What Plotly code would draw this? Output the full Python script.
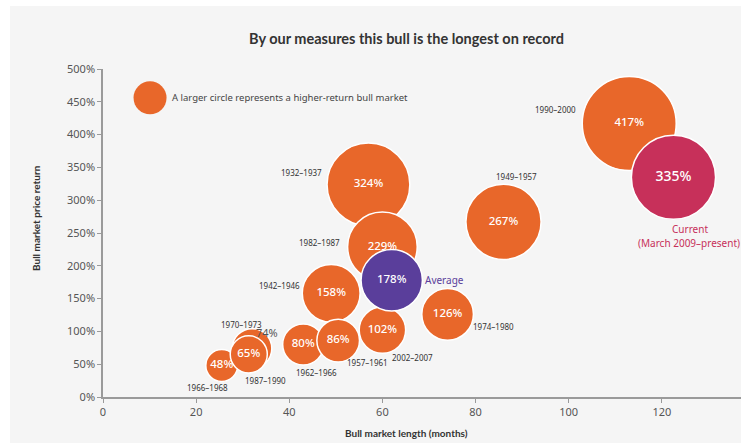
import plotly.graph_objects as go

# ---- data ----
periods = ["1932–1937", "1982–1987", "1990–2000", "1949–1957", "1942–1946",
           "1974–1980", "2002–2007", "1962–1966", "1957–1961", "1966–1968",
           "1970–1973", "1987–1990", "Average", "Current"]
months = [57, 60, 113, 86, 49, 74, 60, 43, 50.5, 25.5, 32, 31.3, 62, 122.5]
returns = [324, 229, 417, 267, 158, 126, 102, 80, 86, 48, 74, 65, 178, 335]

x_ticks = [0, 20, 40, 60, 80, 100, 120]
y_ticks = [0, 50, 100, 150, 200, 250, 300, 350, 400, 450, 500]
y_tick_labels = [f"{v}%" for v in y_ticks]

title_text = "By our measures this bull is the longest on record"
x_title = "Bull market length (months)"
y_title = "Bull market price return"
key_text = "A larger circle represents a higher-return bull market"
current_note = ["Current", "(March 2009–present)"]

# ---- styles ----
ORANGE = "#E8672A"
PURPLE = "#5A3E9B"
CRIMSON = "#C7305A"
FONT = "Noto Sans"

colors = {"Average": PURPLE, "Current": CRIMSON}
# label offsets in pixels (dx, dy with dy downward) relative to bubble centre
label_off = {
    "1932–1937": (-67, -12), "1982–1987": (-63, -4), "1990–2000": (-74, -14),
    "1949–1957": (13, -45), "1942–1946": (-52, -8), "1974–1980": (46, 12),
    "2002–2007": (30, 27), "1962–1966": (13, 28), "1957–1961": (29, 22),
    "1966–1968": (-14, 22), "1970–1973": (-11, -24), "1987–1990": (17, 26),
}
hidden_value = {"1970–1973": (15, -16)}  # value label drawn outside

texts = []
for p, r in zip(periods, returns):
    texts.append("" if p in hidden_value else f"{r}%")

fig = go.Figure()

fig.add_trace(go.Scatter(
    x=months, y=returns, mode="markers+text",
    text=texts, textposition="middle center",
    textfont=dict(family=FONT, color="white",
                  size=[14 if p == "Current" else 11.5 for p in periods],
                  weight=500),
    marker=dict(size=returns, sizemode="area", sizeref=0.0945,
                color=[colors.get(p, ORANGE) for p in periods],
                line=dict(color="white", width=1.5), opacity=1),
    cliponaxis=False, hoverinfo="skip", showlegend=False,
))

# key bubble
fig.add_trace(go.Scatter(
    x=[10.1], y=[456], mode="markers",
    marker=dict(size=33, color=ORANGE, line=dict(width=0)),
    hoverinfo="skip", showlegend=False,
))

ann = []
for p, m, r in zip(periods, months, returns):
    if p in label_off:
        dx, dy = label_off[p]
        ann.append(dict(x=m, y=r, xref="x", yref="y", text=p, showarrow=False,
                        xshift=dx, yshift=-dy,
                        font=dict(family=FONT, size=8, color="#333333")))
    if p in hidden_value:
        dx, dy = hidden_value[p]
        ann.append(dict(x=m, y=r, xref="x", yref="y", text=f"{r}%", showarrow=False,
                        xshift=dx, yshift=-dy,
                        font=dict(family=FONT, size=11, color="#555555")))
    if p == "Average":
        ann.append(dict(x=m, y=r, xref="x", yref="y", text=p, showarrow=False,
                        xanchor="left", xshift=31, yshift=0,
                        font=dict(family=FONT, size=10, color=PURPLE)))
    if p == "Current":
        ann.append(dict(x=m, y=r, xref="x", yref="y", text=current_note[0],
                        showarrow=False, xshift=17, yshift=-52,
                        font=dict(family=FONT, size=10, color=CRIMSON)))
        ann.append(dict(x=m, y=r, xref="x", yref="y", text=current_note[1],
                        showarrow=False, xshift=16, yshift=-66,
                        font=dict(family=FONT, size=10, color=CRIMSON)))

ann.append(dict(x=10.1, y=456, xref="x", yref="y", text=key_text, showarrow=False,
                xanchor="left", xshift=20,
                font=dict(family=FONT, size=9.5, color="#444444")))
# title and axis titles
ann.append(dict(x=(406 - 103) / 638, y=(397 - 39) / 328, xref="paper", yref="paper",
                xanchor="center", yanchor="middle",
                text=f"<b>{title_text}</b>", showarrow=False,
                font=dict(family="Lato", size=14.5, color="#333333")))
ann.append(dict(x=(406 - 103) / 638, y=(397 - 433) / 328, xref="paper", yref="paper",
                xanchor="center", yanchor="middle",
                text=f"<b>{x_title}</b>", showarrow=False,
                font=dict(family="Lato", size=10, color="#333333")))
ann.append(dict(x=(36 - 103) / 638, y=(397 - 218) / 328, xref="paper", yref="paper",
                xanchor="center", yanchor="middle",
                text=f"<b>{y_title}</b>", showarrow=False, textangle=-90,
                font=dict(family="Lato", size=10, color="#333333")))

fig.update_layout(
    width=741, height=443,
    margin=dict(l=103, r=0, t=69, b=46),
    paper_bgcolor="white", plot_bgcolor="white",
    annotations=ann,
    shapes=[dict(type="rect", xref="paper", yref="paper", layer="below",
                 x0=(10 - 103) / 638, x1=1.05, y0=-0.2, y1=(397 - 6) / 328,
                 fillcolor="#F5F5F5", line=dict(width=0))],
    xaxis=dict(range=[0, 137], tickvals=x_ticks, showgrid=False, zeroline=False,
               showline=True, linecolor="#9a9a9a", linewidth=1.5,
               ticks="outside", ticklen=4, tickcolor="#9a9a9a",
               tickfont=dict(family=FONT, size=11, color="#555555")),
    yaxis=dict(range=[0, 500], tickvals=y_ticks, ticktext=y_tick_labels,
               showgrid=False, zeroline=False, showline=True,
               linecolor="#9a9a9a", linewidth=1.5,
               ticks="outside", ticklen=4, tickcolor="#9a9a9a",
               tickfont=dict(family=FONT, size=11, color="#555555")),
)

fig.write_html("out.html")
